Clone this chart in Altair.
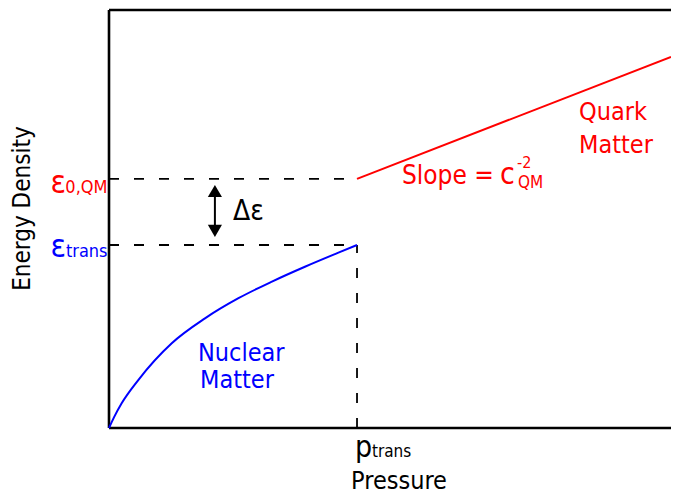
import altair as alt
import pandas as pd

FONT = "DejaVu Sans Condensed, DejaVu Sans"

# Nuclear matter EoS curve (pressure in units of p_trans, energy density in units of eps_trans)
p_nuc = [0.0, 0.02, 0.051, 0.118, 0.253, 0.387, 0.522, 0.657, 0.790, 0.925, 1.0]
e_nuc = [0.0, 0.058, 0.135, 0.262, 0.463, 0.599, 0.709, 0.800, 0.881, 0.958, 1.0]

# Quark matter line
p_qm = [1.0, 2.266]
e_qm = [1.361, 2.028]

p_trans = 1.0
eps_trans = 1.0
eps_0qm = 1.361

X_MAX = 2.266
Y_MAX = 2.284

xs = alt.Scale(domain=[0, X_MAX], nice=False, zero=False)
ys = alt.Scale(domain=[0, Y_MAX], nice=False, zero=False)


def X(name="x"):
    return alt.X(f"{name}:Q", scale=xs, axis=None)


def Y(name="y"):
    return alt.Y(f"{name}:Q", scale=ys, axis=None)


def line(xv, yv, color, width=2, dash=None, interp="linear"):
    df = pd.DataFrame({"x": xv, "y": yv, "o": list(range(len(xv)))})
    kw = dict(color=color, strokeWidth=width, interpolate=interp)
    if dash:
        kw["strokeDash"] = dash
    return alt.Chart(df).mark_line(**kw).encode(x=X(), y=Y(), order="o:Q")


def label(text, x, y, size, color="black", align="left", angle=0, baseline="alphabetic"):
    df = pd.DataFrame({"x": [x], "y": [y], "t": [text]})
    kw = dict(font=FONT, fontSize=size, color=color, align=align, baseline=baseline)
    if angle:
        kw["angle"] = angle
    return alt.Chart(df).mark_text(**kw).encode(x=X(), y=Y(), text="t:N")


layers = []

# Frame: left, bottom, top
layers.append(line([0, 0], [0, Y_MAX], "black", 2.6))
layers.append(line([0, X_MAX], [0, 0], "black", 2.6))
layers.append(line([0, X_MAX], [Y_MAX, Y_MAX], "black", 2.6))

# Dashed guides
dash = [10, 15]
layers.append(line([0, p_trans], [eps_0qm, eps_0qm], "black", 1.8, dash))
layers.append(line([0, p_trans], [eps_trans, eps_trans], "black", 1.8, dash))
layers.append(line([p_trans, p_trans], [0, eps_trans], "black", 1.8, dash))

# Curves
layers.append(line(p_nuc, e_nuc, "#0000ff", 2, interp="monotone"))
layers.append(line(p_qm, e_qm, "#ff0000", 2))

# Double arrow for delta epsilon
arrow_x = 0.427
arrow_top = 1.295
arrow_bot = 1.077
layers.append(line([arrow_x, arrow_x], [arrow_top, arrow_bot], "black", 2))
layers.append(
    alt.Chart(pd.DataFrame({"x": [arrow_x], "y": [arrow_top]}))
    .mark_point(shape="triangle-up", size=200, filled=True, color="black", opacity=1)
    .encode(x=X(), y=Y())
)
layers.append(
    alt.Chart(pd.DataFrame({"x": [arrow_x], "y": [arrow_bot]}))
    .mark_point(shape="triangle-down", size=200, filled=True, color="black", opacity=1)
    .encode(x=X(), y=Y())
)

# Labels
layers.append(label("Energy Density", -0.319, 1.199, 24, angle=270, align="center"))
layers.append(label("ε", -0.173, 1.284, 32, "#ff0000", align="right"))
layers.append(label("0,QM", -0.006, 1.284, 18, "#ff0000", align="right"))
layers.append(label("ε", -0.173, 0.934, 32, "#0000ff", align="right"))
layers.append(label("trans", -0.006, 0.934, 18, "#0000ff", align="right"))
layers.append(label("Δε", 0.5, 1.137, 28))
layers.append(label("Slope =", 1.181, 1.333, 26, "#ff0000"))
layers.append(label("c", 1.577, 1.333, 30, "#ff0000"))
layers.append(label("-2", 1.645, 1.421, 16, "#ff0000"))
layers.append(label("QM", 1.649, 1.311, 17, "#ff0000"))
layers.append(label("Quark", 1.895, 1.683, 25, "#ff0000"))
layers.append(label("Matter", 1.895, 1.503, 25, "#ff0000"))
layers.append(label("Nuclear", 0.359, 0.366, 25, "#0000ff"))
layers.append(label("Matter", 0.367, 0.219, 25, "#0000ff"))
layers.append(label("p", 0.992, -0.158, 30))
layers.append(label("trans", 1.060, -0.158, 17))
layers.append(label("Pressure", 0.976, -0.333, 25))

chart = (
    alt.layer(*layers)
    .properties(
        width=562,
        height=418,
        padding={"left": 101, "top": 2, "right": 0, "bottom": 67},
        autosize=alt.AutoSizeParams(type="none"),
        background="white",
    )
    .configure_view(stroke=None)
)

chart.save("out.html", embed_options={"renderer": "svg", "actions": False})
